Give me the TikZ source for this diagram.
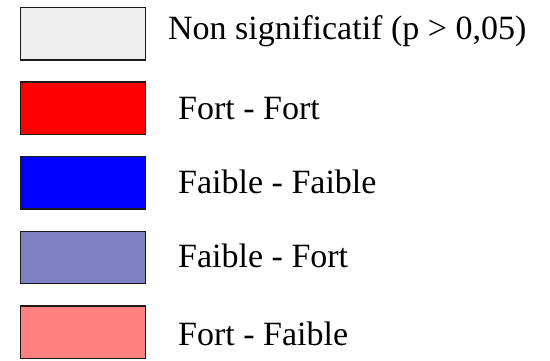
\documentclass[tikz,border=0pt]{standalone}
\usepackage{fontspec}
\setmainfont{Liberation Serif}
\definecolor{nsgray}{HTML}{EFEFEF}
\definecolor{ffred}{HTML}{FF0000}
\definecolor{ffblue}{HTML}{0000FF}
\definecolor{fbfort}{HTML}{8080C0}
\definecolor{fortfb}{HTML}{FF8080}
\definecolor{edgegray}{HTML}{1A1A1A}
\begin{document}
\begin{tikzpicture}[x=1pt,y=-1pt,
  swatch/.style={draw=edgegray,line width=1.4pt,minimum width=125pt,minimum height=52.5pt,inner sep=0pt,anchor=center},
  label/.style={anchor=base west,inner sep=0pt,font=\fontsize{34}{40}\selectfont}]
\useasboundingbox (0,0) rectangle (550,361);
\node[swatch,fill=nsgray] (s1) at (83.2,33.7) {};
\node[swatch,fill=ffred] (s2) at (83.2,108.3) {};
\node[swatch,fill=ffblue] (s3) at (83.2,182.9) {};
\node[swatch,fill=fbfort] (s4) at (83.2,257.5) {};
\node[swatch,fill=fortfb] (s5) at (83.2,332.1) {};
\node[label] (t1) at (168,39.3) {Non significatif (p > 0,05)};
\node[label] (t2) at (178,119.3) {Fort - Fort};
\node[label] (t3) at (178,193.3) {Faible - Faible};
\node[label] (t4) at (178,267.7) {Faible - Fort};
\node[label] (t5) at (178,345) {Fort - Faible};
\end{tikzpicture}
\end{document}
